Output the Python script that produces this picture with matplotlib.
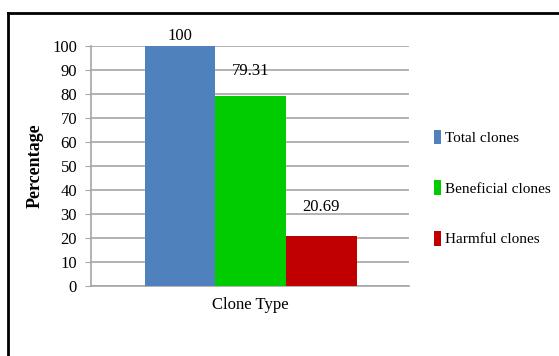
import matplotlib
matplotlib.use("Agg")
import matplotlib.pyplot as plt
from matplotlib.patches import Patch
from matplotlib.lines import Line2D

# data
categories = ["Total clones", "Beneficial clones", "Harmful clones"]
values = [100, 79.31, 20.69]
value_labels = ["100", "79.31", "20.69"]
colors = ["#4F81BD", "#00CC00", "#C00000"]
label_offsets = [7, 18, 21]   # points above bar top
yticks = list(range(0, 101, 10))

plt.rcParams['font.family'] = ['Liberation Serif', 'DejaVu Serif']

fig = plt.figure(figsize=(5.59, 3.56), dpi=100)
ax = fig.add_axes([0.1628, 0.1966, 0.569, 0.6742])

xs = list(range(len(values)))
bars = ax.bar(xs, values, width=1.0, color=colors, zorder=3)

for x, v, lab, off in zip(xs, values, value_labels, label_offsets):
    ax.annotate(lab, (x, v), xytext=(0, off), textcoords="offset points",
                ha="center", va="center", fontsize=12)

ax.set_xlim(-0.5 - 0.76, 2.5 + 0.74)
ax.set_ylim(0, 100)
ax.set_yticks(yticks)
ax.set_yticklabels([str(t) for t in yticks], fontsize=12)
ax.set_xticks([])
ax.yaxis.grid(True, color="#A6A6A6", linewidth=1.2, zorder=0)
ax.tick_params(axis="y", length=4, color="#A6A6A6", pad=6)

for s in ["top", "right"]:
    ax.spines[s].set_visible(False)
ax.spines["left"].set_color("#A6A6A6")
ax.spines["bottom"].set_color("#A6A6A6")
ax.spines["left"].set_linewidth(1.2)
ax.spines["bottom"].set_linewidth(1.2)

ax.set_xlabel("Clone Type", fontsize=12, labelpad=8)
ax.set_ylabel("Percentage", fontsize=13, fontweight="bold", labelpad=6)

handles = [Patch(facecolor=c, edgecolor="none") for c in colors]
fig.legend(handles, categories, loc="center left",
           bbox_to_anchor=(434 / 559, 1 - 188 / 356), bbox_transform=fig.transFigure,
           frameon=False, fontsize=11, handlelength=0.45, handleheight=1.1,
           handletextpad=0.3, labelspacing=2.3, borderpad=0, borderaxespad=0)

# outer chart border (top and left edges visible)
fig.add_artist(Line2D([8 / 559, 1.0], [1 - 13 / 356, 1 - 13 / 356],
                      transform=fig.transFigure, color="black", linewidth=2))
fig.add_artist(Line2D([8 / 559, 8 / 559], [0.0, 1 - 13 / 356],
                      transform=fig.transFigure, color="black", linewidth=2))

fig.savefig("out.png", dpi=100)
